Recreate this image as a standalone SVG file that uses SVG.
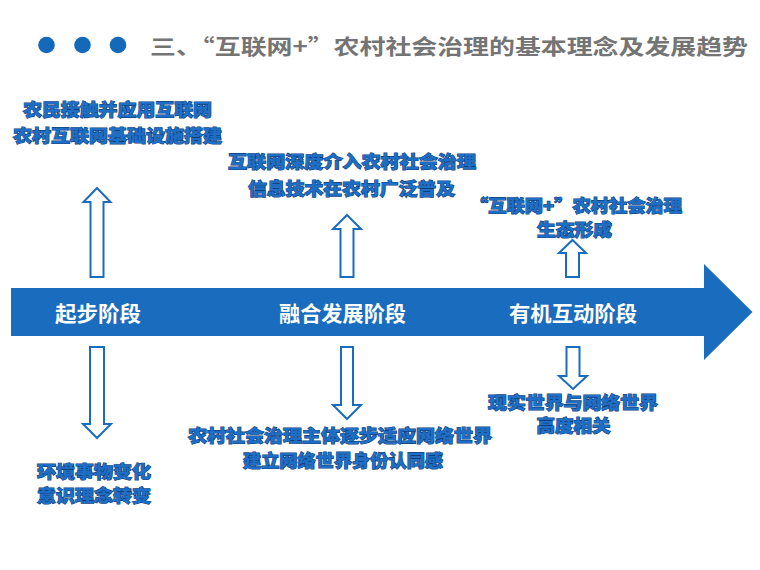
<svg xmlns="http://www.w3.org/2000/svg" width="760" height="570" viewBox="0 0 760 570">
<style>
.title{font-family:"Noto Sans CJK SC","Noto Sans",sans-serif;font-size:21px;font-weight:bold;fill:#747474}
.stage{font-family:"Noto Sans CJK SC","Noto Sans",sans-serif;font-size:21px;font-weight:bold;fill:#ffffff;text-anchor:middle}
.note{font-family:"Noto Sans CJK SC","Noto Sans",sans-serif;font-size:17px;font-weight:900;fill:#1d6ec4;stroke:#0f3f7a;stroke-width:1.1;paint-order:stroke;text-anchor:middle}
.hollow{fill:#ffffff;stroke:#1a6cbf;stroke-width:2;stroke-linejoin:miter}
.dot{fill:#1469b8}
</style>
<rect width="760" height="570" fill="#ffffff"/>
<g id="header">
<circle class="dot" cx="46.5" cy="45" r="8.3"/>
<circle class="dot" cx="82.5" cy="45" r="8.3"/>
<circle class="dot" cx="118" cy="45" r="8.3"/>
<text class="title" x="150" y="54" textLength="598" lengthAdjust="spacingAndGlyphs">三、“互联网+”农村社会治理的基本理念及发展趋势</text>
</g>
<g id="timeline">
<path d="M11,288 H704 V264 L752.5,312 L704,360 V336 H11 Z" fill="#1a6cbf"/>
</g>
<g id="stage1"><text class="stage" x="98" y="321" textLength="86" lengthAdjust="spacingAndGlyphs">起步阶段</text></g>
<g id="stage2"><text class="stage" x="342.5" y="321" textLength="127" lengthAdjust="spacingAndGlyphs">融合发展阶段</text></g>
<g id="stage3"><text class="stage" x="573" y="321" textLength="128" lengthAdjust="spacingAndGlyphs">有机互动阶段</text></g>
<g id="connectors">
<path class="hollow" d="M97,188 L110.5,202 H103.5 V277 H90.5 V202 H83.5 Z"/>
<path class="hollow" d="M347,215 L361,229 H353.5 V277 H340.5 V229 H333 Z"/>
<path class="hollow" d="M572.5,240 L586,253 H579 V277 H566 V253 H559 Z"/>
<path class="hollow" d="M97,438 L111,424 H104 V347 H90 V424 H83 Z"/>
<path class="hollow" d="M347,419 L361,405 H353 V347 H341 V405 H333 Z"/>
<path class="hollow" d="M573,389 L587,376 H579.5 V347 H566.5 V376 H559 Z"/>
</g>
<g id="note-start-up">
<text class="note" x="117.5" y="116" textLength="189" lengthAdjust="spacingAndGlyphs">农民接触并应用互联网</text>
<text class="note" x="117.5" y="142" textLength="209" lengthAdjust="spacingAndGlyphs">农村互联网基础设施搭建</text>
</g>
<g id="note-fusion-up">
<text class="note" x="352" y="168" textLength="248" lengthAdjust="spacingAndGlyphs">互联网深度介入农村社会治理</text>
<text class="note" x="351.5" y="195" textLength="207" lengthAdjust="spacingAndGlyphs">信息技术在农村广泛普及</text>
</g>
<g id="note-interact-up">
<text class="note" x="576" y="212" textLength="212" lengthAdjust="spacingAndGlyphs">“互联网+”农村社会治理</text>
<text class="note" x="574.5" y="236" textLength="75" lengthAdjust="spacingAndGlyphs">生态形成</text>
</g>
<g id="note-start-down">
<text class="note" x="94" y="478" textLength="114" lengthAdjust="spacingAndGlyphs">环境事物变化</text>
<text class="note" x="94" y="502" textLength="114" lengthAdjust="spacingAndGlyphs">意识理念转变</text>
</g>
<g id="note-fusion-down">
<text class="note" x="340" y="442" textLength="304" lengthAdjust="spacingAndGlyphs">农村社会治理主体逐步适应网络世界</text>
<text class="note" x="343" y="467" textLength="200" lengthAdjust="spacingAndGlyphs">建立网络世界身份认同感</text>
</g>
<g id="note-interact-down">
<text class="note" x="573" y="408.5" textLength="170" lengthAdjust="spacingAndGlyphs">现实世界与网络世界</text>
<text class="note" x="573.5" y="432" textLength="74" lengthAdjust="spacingAndGlyphs">高度相关</text>
</g>
</svg>
